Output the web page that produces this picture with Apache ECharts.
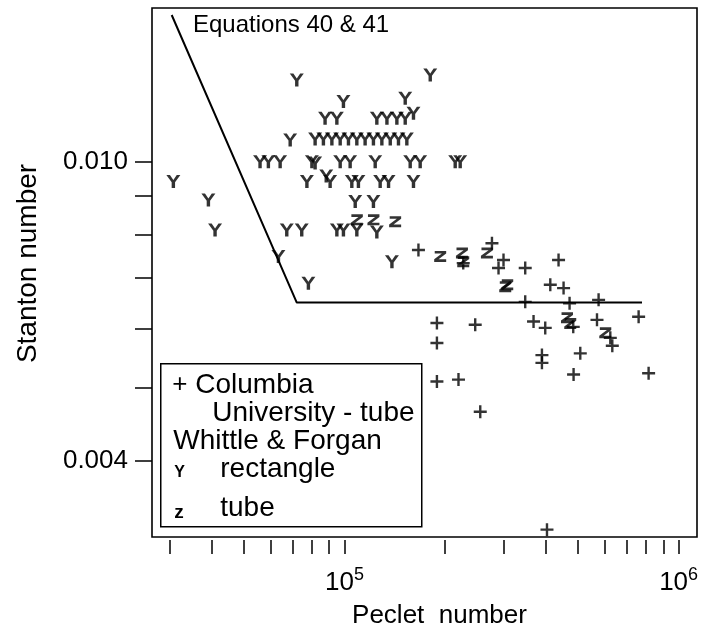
<!DOCTYPE html>
<html><head><meta charset="utf-8">
<script src="https://cdn.jsdelivr.net/npm/echarts@6/dist/echarts.min.js"></script>
<style>html,body{margin:0;padding:0;background:#fff}#c{width:702px;height:627px}</style>
</head><body><div id="c"></div>
<script>
// Axis ranges (raw values; plotted on log10 scale)
const xRange = [26550, 1135000];
const yRange = [0.003168, 0.01601];
const xTickValues = [30000,40000,50000,60000,70000,80000,90000,100000,200000,300000,400000,500000,600000,700000,800000,900000,1000000];
const xLabelValues = [100000, 1000000];
const yTickValues = [0.004,0.005,0.006,0.007,0.008,0.009,0.010];
const yLabelValues = [0.004, 0.010];

// Equations 40 & 41 line [Peclet, Stanton]
const equationLine = [[30410,0.01567],[72000,0.006495],[777000,0.006495]];

// Whittle & Forgan - rectangle  [Peclet, Stanton]
const rectanglePoints = [
 [30760,0.00941],[39160,0.00889],[41000,0.00811],[63450,0.00748],[78000,0.00689],
 [67200,0.00811],[74500,0.00811],[94900,0.00811],[99300,0.00811],[108900,0.00811],
 [125000,0.00806],[138700,0.00736],[107700,0.00885],[122100,0.00885],
 [77200,0.00941],[88200,0.00957],[90600,0.00941],[105200,0.00941],[110100,0.00941],
 [127900,0.00941],[135500,0.00941],[160900,0.00941],
 [55900,0.0100],[59200,0.0100],[64200,0.0100],[79900,0.0100],[81700,0.00996],
 [97100,0.0100],[104000,0.0100],[123600,0.0100],[157300,0.0100],[168500,0.0100],
 [214500,0.0100],[222000,0.0100],
 [68800,0.01069],
 [81700,0.01072],[86500,0.01072],[91700,0.01072],[97100,0.01072],[102800,0.01072],
 [108900,0.01072],[115300,0.01072],[122100,0.01072],[129400,0.01072],[137100,0.01072],
 [145100,0.01072],[153700,0.01072],
 [87500,0.01142],[94900,0.01142],[125000,0.01142],[134000,0.01142],[143500,0.01142],
 [152000,0.01142],[160900,0.01160],
 [99300,0.01202],[152000,0.01214],[72000,0.01284],[180600,0.01304]
];

// Whittle & Forgan - tube
const tubePoints = [
 [108900,0.00837],[122100,0.00837],[141800,0.00832],[193400,0.00748],[224700,0.00756],
 [226700,0.00736],[266900,0.00756],[302800,0.00682],[307000,0.00686],[463400,0.00620],
 [473900,0.00609],[603300,0.00592]
];

// Columbia University - tube
const columbiaPoints = [
 [166500,0.00763],[226700,0.00733],[276300,0.00779],[299200,0.00740],[289100,0.00722],
 [347500,0.00722],[437200,0.00740],[413000,0.00686],[452600,0.00679],[347500,0.00651],
 [471700,0.00648],[576100,0.00655],[189100,0.00610],[246200,0.00607],[368000,0.00613],
 [398900,0.00601],[483800,0.00603],[569800,0.00616],[759100,0.00622],[624500,0.00583],
 [633200,0.00569],[189100,0.00574],[389900,0.00553],[389900,0.00540],[507800,0.00556],
 [189100,0.00510],[219400,0.00513],[484900,0.00521],[813200,0.00523],[254900,0.00465],
 [403700,0.00324]
];

const L = Math.log10;
const toLog = arr => arr.map(p => [L(p[0]), L(p[1])]);
const FONT = 'Liberation Sans, Arial, Helvetica, sans-serif';

const symY = 'path://M0,0 L3.6,0 L7,5 L10.4,0 L14,0 L8.7,7.2 L8.7,13 L5.3,13 L5.3,7.2 Z';
const symPlus = 'path://M5.3,0 L7.7,0 L7.7,5.3 L13,5.3 L13,7.7 L7.7,7.7 L7.7,13 L5.3,13 L5.3,7.7 L0,7.7 L0,5.3 L5.3,5.3 Z';
const symZ = 'path://M0.5,0 L11,0 L11,2.4 L4,7.6 L11,7.6 L11,10 L0,10 L0,7.6 L7,2.4 L0.5,2.4 Z';

const markerStyle = {color:'#000', borderWidth:0};
const txt = (x, y, s, size, extra) => ({type:'text', x:x, y:y, style:Object.assign({text:s, fontSize:size, fontFamily:FONT, fill:'#000', verticalAlign:'middle'}, extra || {})});

const chart = echarts.init(document.getElementById('c'), null, {renderer:'canvas'});
chart.setOption({
  animation:false,
  backgroundColor:'#fff',
  textStyle:{fontFamily:FONT},
  grid:{left:152, right:5, top:8, bottom:90, show:true, borderColor:'#000', borderWidth:1.6,
        backgroundColor:'rgba(0,0,0,0)', containLabel:false, outerBoundsMode:'none'},
  xAxis:{
    type:'value', min:L(xRange[0]), max:L(xRange[1]), offset:3,
    axisLine:{show:false},
    axisTick:{show:true, customValues:xTickValues.map(L), length:14, lineStyle:{color:'#000', width:1.5}},
    axisLabel:{customValues:xLabelValues.map(L), margin:26, color:'#000',
      formatter:v => '{b|10}{s|' + Math.round(v) + '}',
      rich:{b:{fontSize:26, fontFamily:FONT, color:'#000', lineHeight:30, verticalAlign:'bottom'},
            s:{fontSize:18, fontFamily:FONT, color:'#000', lineHeight:30, verticalAlign:'top', padding:[0,0,14,0]}}},
    splitLine:{show:false},
    name:'Peclet  number', nameLocation:'middle', nameGap:58,
    nameTextStyle:{fontSize:26, color:'#000', fontFamily:FONT, padding:[0,0,0,30]}
  },
  yAxis:{
    type:'value', min:L(yRange[0]), max:L(yRange[1]),
    axisLine:{show:false},
    axisTick:{show:true, customValues:yTickValues.map(L), length:17, lineStyle:{color:'#000', width:1.5}},
    axisLabel:{customValues:yLabelValues.map(L), margin:24, color:'#000', fontSize:26, fontFamily:FONT,
      formatter:v => Math.pow(10, v).toFixed(3)},
    splitLine:{show:false},
    name:'Stanton number', nameLocation:'middle', nameGap:110,
    nameTextStyle:{fontSize:28, color:'#000', fontFamily:FONT, padding:[0,0,0,18]}
  },
  series:[
    {type:'line', data:toLog(equationLine), symbol:'none', lineStyle:{color:'#000', width:2}, z:2},
    {type:'scatter', name:'rectangle', data:toLog(rectanglePoints), symbol:symY, symbolSize:[14,13], itemStyle:markerStyle, z:3},
    {type:'scatter', name:'tube', data:toLog(tubePoints), symbol:symZ, symbolSize:[12,11], itemStyle:markerStyle, z:3},
    {type:'scatter', name:'Columbia', data:toLog(columbiaPoints), symbol:symPlus, symbolSize:[13,13], itemStyle:markerStyle, z:3}
  ],
  graphic:[
    {type:'text', left:193, top:13, style:{text:'Equations 40 & 41', fontSize:24, fontFamily:FONT, fill:'#000'}},
    {type:'group', left:160, top:363, children:[
      {type:'rect', shape:{x:0.5, y:0.5, width:261, height:163}, style:{fill:'#fff', stroke:'#000', lineWidth:1.5}},
      txt(12, 22, '+', 26),
      txt(35, 22, 'Columbia', 28),
      txt(52, 50, 'University - tube', 28),
      txt(13, 78, 'Whittle & Forgan', 28),
      txt(14, 109, 'Y', 16, {fontWeight:'bold'}),
      txt(60, 106, 'rectangle', 28),
      txt(14, 150, 'z', 19, {fontWeight:'bold'}),
      txt(60, 145, 'tube', 28)
    ]}
  ]
});
</script></body></html>
